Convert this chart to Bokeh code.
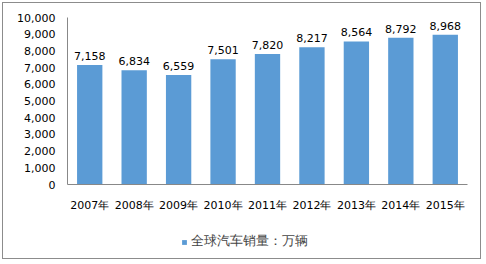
from bokeh.plotting import figure
from bokeh.layouts import column
from bokeh.models import ColumnDataSource, NumeralTickFormatter, Legend, LegendItem, FixedTicker, Range1d
from bokeh.embed import file_html
from bokeh.resources import INLINE

years = ["2007年", "2008年", "2009年", "2010年", "2011年", "2012年", "2013年", "2014年", "2015年"]
sales = [7158, 6834, 6559, 7501, 7820, 8217, 8564, 8792, 8968]
labels = ["7,158", "6,834", "6,559", "7,501", "7,820", "8,217", "8,564", "8,792", "8,968"]
series_name = "全球汽车销量：万辆"
y_ticks = [0, 1000, 2000, 3000, 4000, 5000, 6000, 7000, 8000, 9000, 10000]

FONT = "DejaVu Sans"
BAR = "#5B9BD5"
src = ColumnDataSource(dict(x=years, y=sales, lab=labels))

p = figure(x_range=years, y_range=Range1d(0, 10000), width=486, height=218,
           min_border_left=67, min_border_right=19, min_border_top=17, min_border_bottom=34,
           output_backend="svg", toolbar_location=None)
p.outline_line_color = None
p.grid.visible = False
p.background_fill_color = "white"
p.border_fill_color = "white"

r = p.vbar(x="x", top="y", width=0.57, source=src, color=BAR, line_color=None)
p.text(x="x", y="y", text="lab", source=src, text_align="center", text_baseline="bottom",
       y_offset=-5, text_font_size="11px", text_color="black", text_font={"value": FONT})

p.yaxis.ticker = FixedTicker(ticks=y_ticks)
p.yaxis.formatter = NumeralTickFormatter(format="0,0")
for ax in (p.xaxis, p.yaxis):
    ax.axis_line_color = "#888888"
    ax.major_tick_line_color = None
    ax.minor_tick_line_color = None
    ax.major_tick_out = 0
    ax.major_tick_in = 0
    ax.major_label_text_font = FONT
    ax.major_label_text_font_size = "11px"
    ax.major_label_text_color = "black"
p.yaxis.major_label_standoff = 12
p.xaxis.major_label_standoff = 14
p.x_range.range_padding = 0.0

# legend strip underneath the chart (its sample bar sits outside the visible range)
p2 = figure(x_range=Range1d(0, 1), y_range=Range1d(0, 1), width=486, height=46,
            min_border=0, output_backend="svg", toolbar_location=None)
p2.axis.visible = False
p2.grid.visible = False
p2.outline_line_color = None
p2.border_fill_color = "white"
p2.background_fill_color = "white"
legend_src = ColumnDataSource(dict(x=[-5.0], top=[-5.0]))
r2 = p2.vbar(x="x", top="top", width=0.1, source=legend_src, color=BAR, line_color=None)
legend = Legend(items=[LegendItem(label=series_name, renderers=[r2])], location=(114, 14),
                label_text_font=FONT, label_text_font_size="12.5px", glyph_width=6, glyph_height=6,
                border_line_color=None, background_fill_alpha=0, padding=2, spacing=0,
                label_standoff=4, margin=0)
p2.add_layout(legend, "center")

layout = column(p, p2, spacing=0)
layout.stylesheets = [":host { position: relative; }",
                      ":host::after { content: ''; position: absolute; left: 2px; top: 2px; "
                      "width: 477px; height: 255px; border: 1.5px solid #8c8c8c; "
                      "pointer-events: none; z-index: 100; }"]

open("out.html", "w").write(file_html(layout, INLINE))
